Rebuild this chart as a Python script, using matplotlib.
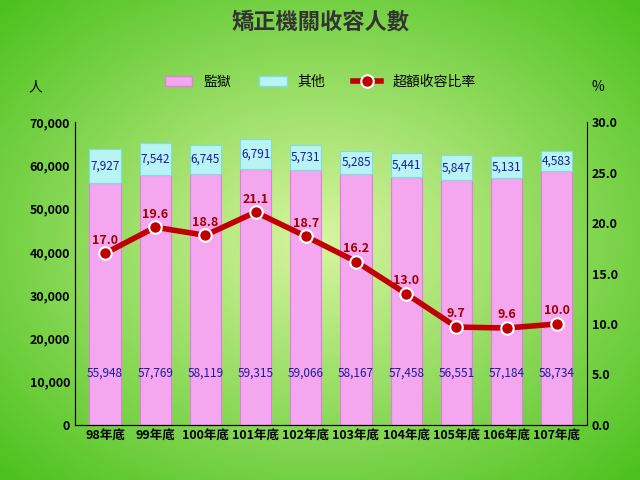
import matplotlib.pyplot as plt
from matplotlib.patches import Patch
import numpy as np

plt.rcParams['font.family'] = ['Noto Sans CJK TC', 'DejaVu Sans']

years = ['98年底', '99年底', '100年底', '101年底', '102年底', '103年底', '104年底', '105年底', '106年底', '107年底']
prison = [55948, 57769, 58119, 59315, 59066, 58167, 57458, 56551, 57184, 58734]
other = [7927, 7542, 6745, 6791, 5731, 5285, 5441, 5847, 5131, 4583]
rate = [17.0, 19.6, 18.8, 21.1, 18.7, 16.2, 13.0, 9.7, 9.6, 10.0]

fig = plt.figure(figsize=(6.4, 4.8), dpi=100)
# green gradient background
bg = fig.add_axes([0, 0, 1, 1], zorder=-10)
yy, xx = np.mgrid[-1:1:200j, -1:1:200j]
r = np.sqrt(xx**2 + yy**2)
bg.imshow(r, cmap=plt.matplotlib.colors.LinearSegmentedColormap.from_list('g', ['#d8f5a0', '#4cc21e']),
          extent=[0, 1, 0, 1], aspect='auto', vmin=0, vmax=1.4)
bg.axis('off')

ax = fig.add_axes([0.117, 0.115, 0.80, 0.63])
ax.patch.set_alpha(0)
x = np.arange(len(years))
ax.bar(x, prison, width=0.62, color='#f4a6ee', edgecolor='#e080dc', linewidth=0.8)
ax.bar(x, other, width=0.62, bottom=prison, color='#b8f4f4', edgecolor='#80dce0', linewidth=0.8)
for i in range(len(x)):
    ax.text(x[i], 12000, f'{prison[i]:,}', ha='center', va='center', fontsize=8.5, color='#1a1a9a')
    ax.text(x[i], prison[i] + other[i] / 2, f'{other[i]:,}', ha='center', va='center', fontsize=8.5, color='#1a1a9a')
ax.set_ylim(0, 70000)
ax.set_xlim(-0.6, len(x) - 0.4)
ax.set_yticks(range(0, 70001, 10000))
ax.set_yticklabels([f'{v:,}' for v in range(0, 70001, 10000)], fontsize=9, fontweight='bold')
ax.set_xticks(x)
ax.set_xticklabels(years, fontsize=9, fontweight='bold')
ax.tick_params(length=0)
for s in ['top', 'right']:
    ax.spines[s].set_visible(False)

ax2 = ax.twinx()
line, = ax2.plot(x, rate, color='#c00000', linewidth=4, marker='o', markersize=9,
                 markerfacecolor='#c00000', markeredgecolor='white', markeredgewidth=1.5)
for i in range(len(x)):
    ax2.text(x[i], rate[i] + 1.3, f'{rate[i]:.1f}', ha='center', va='center', fontsize=9, color='#a00000', fontweight='bold')
ax2.set_ylim(0, 30)
ax2.set_yticks(np.arange(0, 30.1, 5))
ax2.set_yticklabels([f'{v:.1f}' for v in np.arange(0, 30.1, 5)], fontsize=9, fontweight='bold')
ax2.tick_params(length=0)
ax2.spines['top'].set_visible(False)

handles = [Patch(facecolor='#f4a6ee', edgecolor='#e080dc'),
           Patch(facecolor='#b8f4f4', edgecolor='#80dce0'), line]
fig.legend(handles, ['監獄', '其他', '超額收容比率'], loc='center', bbox_to_anchor=(0.5, 0.83),
           ncol=3, frameon=False, fontsize=10)
fig.text(0.5, 0.955, '矯正機關收容人數', ha='center', va='center', fontsize=16, fontweight='bold', color='#333333')
fig.text(0.045, 0.81, '人', fontsize=10)
fig.text(0.925, 0.81, '%', fontsize=10)
fig.savefig('out.png', dpi=100)
